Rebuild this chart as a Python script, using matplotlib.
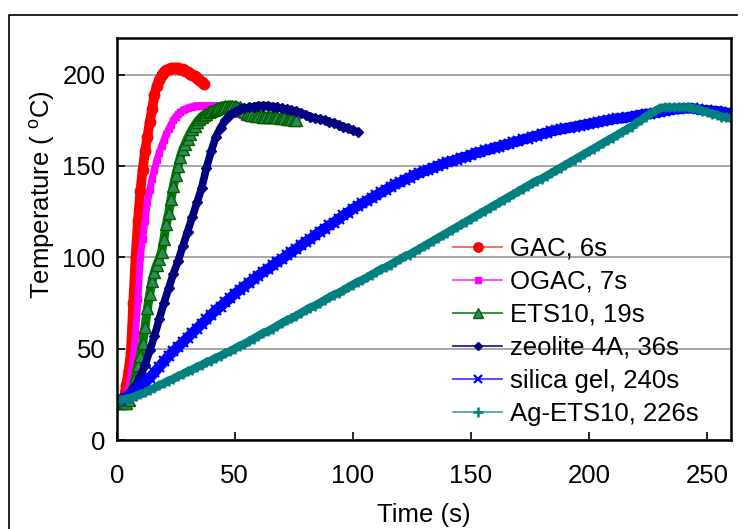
import numpy as np
import matplotlib
matplotlib.use('Agg')
from matplotlib import pyplot as plt
from matplotlib.lines import Line2D

plt.rcParams['font.family'] = ['Liberation Sans', 'DejaVu Sans']
plt.rcParams['mathtext.fontset'] = 'custom'
plt.rcParams['mathtext.rm'] = 'Liberation Sans'
FS = 18.5

# temperature readings (degC); sampling step in seconds given per series
gac_step = 1
gac = [22, 22, 22, 23, 30, 38, 48, 75, 100, 120, 136, 148, 158, 166, 174, 181,
       189, 194, 197, 200, 201.5, 202.5, 203, 203.5, 203.5, 203.5, 203.5, 203,
       203, 202, 201.5, 200.5, 200, 199, 198, 197, 196, 195]

ogac_step = 1
ogac = [22, 22, 22, 22, 24, 28, 36, 45, 58, 77, 100, 110, 120, 130, 137, 143,
        148, 153, 157, 161, 164, 167.5, 170, 172.5, 175, 177, 178.5, 179.5,
        180.5, 181, 181.5, 182, 182.5, 183, 183, 183, 183, 183, 183, 183, 183,
        183, 183, 183, 183, 182.5, 182, 181.5, 181, 180, 179.5, 179, 178.5,
        178, 177, 176.5, 176]

ets10_step = 1
ets10 = [20, 20, 20, 20, 20, 22, 25, 29, 35, 41, 46, 53, 62, 72, 80, 87, 92,
         96, 99, 103, 110, 118, 124, 132, 139, 145, 150, 155, 159, 162, 165,
         167.5, 170, 172, 174, 175.5, 177, 178, 178.5, 179.5, 180, 180.5, 181,
         181.5, 182, 182.5, 183, 183, 183, 183, 183, 182.5, 182, 181, 180, 179,
         178.5, 178, 178, 177.5, 177.5, 177.5, 177, 177, 177, 177, 176.5,
         176.5, 176.5, 176, 176, 176, 175.5, 175.5, 175.5, 175, 175]

zeolite_step = 2
zeolite = [22, 22, 24, 27, 30, 35, 41, 49, 57, 66, 75, 83, 91, 98, 106, 114,
           122, 130, 138, 149, 158, 166, 171, 175, 178, 179.5, 181, 181.5, 182,
           182.5, 183, 183, 183, 182.5, 182, 181.5, 181, 180.5, 180, 179, 178,
           177, 176, 175.5, 175, 174, 173.5, 172.5, 171.5, 170.5, 169.5, 168.5]

silica_step = 2
silica = [22, 22, 23, 24.5, 26.5, 29, 31.5, 34, 37, 40, 43, 46, 48.5, 51, 53.5,
          56, 58.5, 61, 63.5, 66, 68.5, 71, 73, 75.5, 77.5, 80, 82, 84, 86, 88,
          90, 92, 93.5, 95.5, 97.5, 99, 101, 103, 104.5, 106.5, 108.5, 110, 112,
          114, 115.5, 117.5, 119, 121, 123, 124.5, 126.5, 128, 129.5, 131,
          132.5, 134, 135.5, 137, 138.5, 140, 141, 142.5, 143.5, 145, 146, 147,
          148, 149, 150, 151, 152, 152.5, 153.5, 154.5, 155, 156, 157, 157.5,
          158.5, 159, 160, 160.5, 161.5, 162, 163, 163.5, 164.5, 165, 166,
          166.5, 167.5, 168, 169, 169.5, 170, 170.5, 171, 171.5, 172, 172.5,
          173, 173.5, 174, 174.5, 175, 175.5, 176, 176, 176.5, 177, 177.5, 178,
          178.5, 178.5, 179, 179.5, 180, 180.5, 181, 181, 181.5, 181.5, 181.5,
          181, 180.5, 180.5, 180, 180, 179.5, 179, 179]

ag_step = 2
ag_ets10 = [22, 22, 22.5, 23, 24, 25, 26, 27.5, 28.5, 30, 31, 32.5, 33.5, 35,
            36, 37.5, 38.5, 40, 41, 42.5, 43.5, 45, 46, 47.5, 48.5, 50, 51.5,
            52.5, 54, 55.5, 57, 58.5, 59.5, 61, 62.5, 64, 65.5, 66.5, 68, 69.5,
            71, 72.5, 73.5, 75, 76.5, 78, 79.5, 80.5, 82, 83.5, 85, 86.5, 87.5,
            89, 90.5, 92, 93.5, 94.5, 96, 97.5, 99, 100.5, 101.5, 103, 104.5,
            106, 107.5, 109, 110.5, 112, 113.5, 115, 116.5, 118, 119.5, 121,
            122.5, 124, 125.5, 127, 128.5, 130, 131.5, 133, 134.5, 136, 137.5,
            139, 140.5, 142, 143, 144.5, 146, 147.5, 149, 150.5, 152, 153.5,
            155, 156.5, 158, 159.5, 161, 162.5, 164, 165.5, 167, 168.5, 170,
            171.5, 173.5, 175, 177, 178.5, 180, 181.5, 182, 182, 182, 182, 182,
            182, 181.5, 181, 180, 179.5, 178.5, 178, 177, 176.5, 176]

labels = ['GAC, 6s', 'OGAC, 7s', 'ETS10, 19s', 'zeolite 4A, 36s',
          'silica gel, 240s', 'Ag-ETS10, 226s']
series = [(gac, gac_step), (ogac, ogac_step), (ets10, ets10_step),
          (zeolite, zeolite_step), (silica, silica_step), (ag_ets10, ag_step)]
colors = ['#FF0000', '#FF00FF', '#008000', '#000080', '#0000FF', '#008080']
legcolors = ['#FF6060', '#FF40FF', '#209020', '#202090', '#4040FF', '#50A8A8']
markers = ['o', 's', '^', 'D', 'x', '+']
msizes = [7.5, 5, 8, 5, 7, 7.5]
mews = [1, 1, 1, 1, 1.6, 1.8]
mecs = ['#FF0000', '#FF00FF', '#006000', '#000080', '#0000FF', '#008080']
mfcs = ['#FF0000', '#FF00FF', '#2E8B57', '#000080', '#0000FF', '#008080']
bands = [7, 5, 6.5, 5.5, 7.5, 6]

fig = plt.figure(figsize=(7.46, 5.29), dpi=100)
ax = fig.add_axes([116.7 / 746, 1 - 440 / 529, 614 / 746, 402 / 529])

handles = []
for (vals, step), lab, c, lc, m, ms, mew, mec, mfc, bw in zip(
        series, labels, colors, legcolors, markers, msizes, mews, mecs, mfcs, bands):
    t = np.arange(len(vals)) * step
    # dense marker band
    ax.plot(t, vals, color=c, lw=bw, solid_capstyle='round',
            solid_joinstyle='round')
    ax.plot(t, vals, color=c, lw=1, ls='none', marker=m, ms=ms, mew=mew,
            mec=mec, mfc=mfc)
    handles.append(Line2D([], [], color=lc, lw=1.3, marker=m, ms=ms * 0.9,
                          mew=mew, mec=mec, mfc=mfc, label=lab))

ax.set_xlim(0, 260)
ax.set_ylim(0, 220)
ax.set_xticks([0, 50, 100, 150, 200, 250])
ax.set_yticks([0, 50, 100, 150, 200])
ax.yaxis.grid(True, color='#A0A0A0', lw=1.3)
ax.set_axisbelow(True)
ax.tick_params(direction='in', length=6, width=1.2, labelsize=FS, colors='black')
ax.tick_params(axis='x', pad=17)
ax.tick_params(axis='y', pad=8)
for s in ax.spines.values():
    s.set_linewidth(1.8)

ax.set_xlabel('Time (s)', fontsize=FS, labelpad=11)
ax.set_ylabel('Temperature ( $^{\\rm o}$C)', fontsize=FS)
ax.yaxis.set_label_coords(-0.098, 0.61)

ax.legend(handles=handles, loc='upper left', bbox_to_anchor=(0.548, 0.505),
          frameon=False, fontsize=FS, numpoints=1, handlelength=1.9,
          handletextpad=0.3, labelspacing=0.35, borderaxespad=0, borderpad=0)

# outer chart frame (left and top edges)
fig.add_artist(Line2D([8.5 / 746, 8.5 / 746, 737 / 746],
                      [0, 1 - 14.5 / 529, 1 - 14.5 / 529],
                      transform=fig.transFigure, color='black', lw=1.2))

fig.savefig('out.png', dpi=100)
